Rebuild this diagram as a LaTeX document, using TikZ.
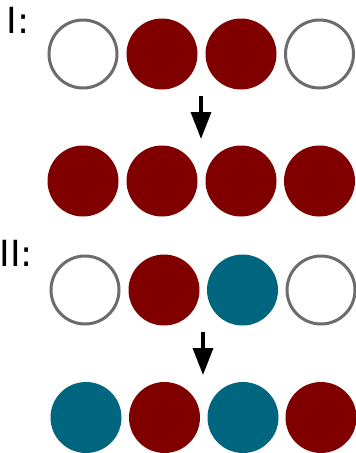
\documentclass[tikz,border=0pt]{standalone}
\usepackage{fontspec}
\setmainfont{DejaVu Sans}
\usetikzlibrary{arrows.meta}
\definecolor{BeadRed}{RGB}{128, 0, 0}
\definecolor{BeadTeal}{RGB}{0, 102, 128}
\definecolor{BeadRim}{RGB}{108, 108, 108}

\begin{document}
\begin{tikzpicture}[
          x=1pt, y=-1pt,
          hole/.style={circle, draw=BeadRim, line width=3pt, fill=white,
                       minimum size=68pt, inner sep=0pt},
          beadred/.style={circle, fill=BeadRed, minimum size=71pt, inner sep=0pt},
          beadteal/.style={circle, fill=BeadTeal, minimum size=71pt, inner sep=0pt},
          lbl/.style={anchor=base west, inner sep=0pt, font=\fontsize{36}{40}\selectfont},
          arr/.style={-{Triangle[width=20pt, length=27pt]}, line width=3.5pt}
        ]
        \useasboundingbox (0,0) rectangle (356,453);
        \node[lbl] (lab1) at (6.5,33) {I:};
        \node[lbl] (lab2) at (-0.5,266) {II:};
        % step I
        \foreach \s/\x [count=\i] in {hole/83, beadred/162, beadred/241, hole/319.5}
          \node[\s] (a\i) at (\x,54) {};
        \foreach \s/\x [count=\i] in {beadred/83, beadred/162, beadred/241, beadred/319.5}
          \node[\s] (b\i) at (\x,181) {};
        % step II
        \foreach \s/\x [count=\i] in {hole/85, beadred/164, beadteal/242.5, hole/321}
          \node[\s] (c\i) at (\x,290) {};
        \foreach \s/\x [count=\i] in {beadteal/86, beadred/164.5, beadteal/243, beadred/321}
          \node[\s] (d\i) at (\x,417.5) {};
        \coordinate (s1) at (201,96);
        \coordinate (e1) at (201,139);
        \coordinate (s2) at (203,332);
        \coordinate (e2) at (203,375);
        \draw[arr] (s1) -- (e1);
        \draw[arr] (s2) -- (e2);
      \end{tikzpicture}
\end{document}
